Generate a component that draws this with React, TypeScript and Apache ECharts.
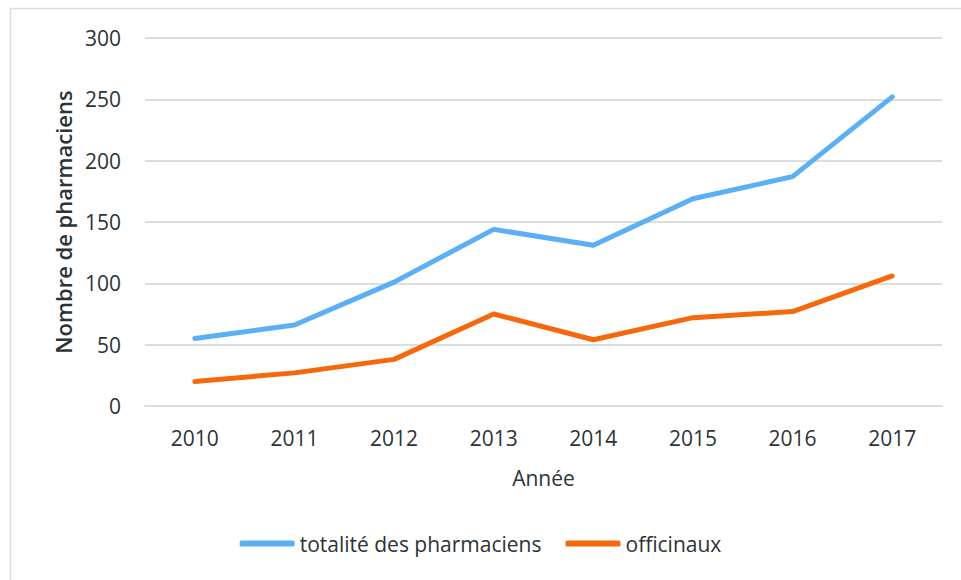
import React, { useEffect, useRef } from "react";
import * as echarts from "echarts";

const years = ["2010", "2011", "2012", "2013", "2014", "2015", "2016", "2017"];
const totalite = [55, 66, 101, 144, 131, 169, 187, 252];
const officinaux = [20, 27, 38, 75, 54, 72, 77, 106];
const seriesNames = ["totalité des pharmaciens", "officinaux"];

const FONT = "'Open Sans', sans-serif";
const TEXT = "#2b3436";

export default function App() {
  const ref = useRef<HTMLDivElement>(null);
  useEffect(() => {
    if (!ref.current) return;
    const chart = echarts.init(ref.current, undefined, { renderer: "svg" });
    chart.setOption({
      animation: false,
      backgroundColor: "#ffffff",
      textStyle: { fontFamily: FONT },
      graphic: [
        {
          type: "rect",
          shape: { x: 10.5, y: 8.5, width: 1000, height: 1000 },
          style: { fill: "none", stroke: "#d9dfde", lineWidth: 1.5 },
          silent: true,
        },
      ],
      grid: { left: 145, right: 19, top: 38, bottom: 174 },
      legend: {
        bottom: 21,
        left: "center",
        itemWidth: 55,
        itemHeight: 6,
        itemGap: 24,
        icon: "roundRect",
        textStyle: { fontFamily: FONT, fontSize: 21, color: TEXT },
        data: seriesNames,
      },
      xAxis: {
        type: "category",
        data: years,
        boundaryGap: true,
        name: "Année",
        nameLocation: "middle",
        nameGap: 61,
        nameTextStyle: { fontFamily: FONT, fontSize: 21, color: TEXT },
        axisLine: { show: true, lineStyle: { color: "#d9dfde", width: 2 } },
        axisTick: { show: false },
        axisLabel: { margin: 21, fontFamily: FONT, fontSize: 21, color: TEXT },
      },
      yAxis: {
        type: "value",
        min: 0,
        max: 300,
        interval: 50,
        name: "Nombre de pharmaciens",
        nameLocation: "middle",
        nameGap: 70,
        nameTextStyle: { fontFamily: FONT, fontSize: 22, fontWeight: 600, color: TEXT },
        axisLine: { show: false },
        axisTick: { show: false },
        axisLabel: { margin: 24, fontFamily: FONT, fontSize: 21, color: TEXT },
        splitLine: { lineStyle: { color: "#d9dfde", width: 2 } },
      },
      series: [
        {
          name: seriesNames[0],
          type: "line",
          data: totalite,
          symbol: "none",
          color: "#5aaff5",
          lineStyle: { width: 5, color: "#5aaff5", cap: "round", join: "round" },
        },
        {
          name: seriesNames[1],
          type: "line",
          data: officinaux,
          symbol: "none",
          color: "#f5690c",
          lineStyle: { width: 5, color: "#f5690c", cap: "round", join: "round" },
        },
      ],
    });
    return () => chart.dispose();
  }, []);
  return (
    <div
      ref={ref}
      style={{ position: "absolute", left: 0, top: 0, width: 961, height: 580 }}
    />
  );
}
